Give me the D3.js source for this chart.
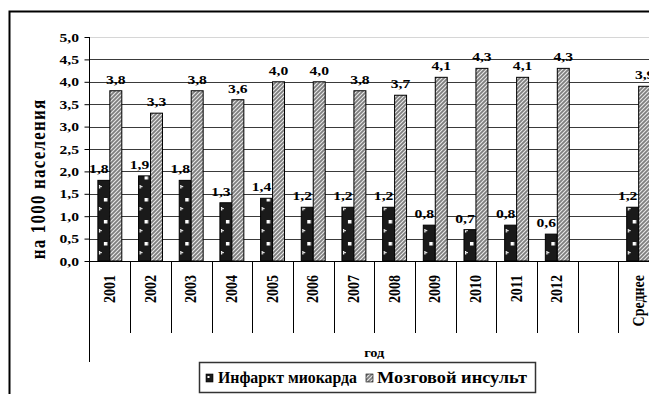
<!DOCTYPE html>
<html>
<head>
<meta charset="utf-8">
<script src="https://cdn.jsdelivr.net/npm/d3@7"></script>
<style>
  html, body { margin: 0; padding: 0; background: #fff; overflow: hidden; }
  svg { display: block; }
  text { font-family: "Liberation Serif", "Times New Roman", serif; font-weight: bold; fill: #000; }
</style>
</head>
<body>
<script>
// Chart data
const categories = ["2001", "2002", "2003", "2004", "2005", "2006", "2007", "2008", "2009", "2010", "2011", "2012", "", "Среднее"];
const infarct = [1.8, 1.9, 1.8, 1.3, 1.4, 1.2, 1.2, 1.2, 0.8, 0.7, 0.8, 0.6, null, 1.2];
const stroke  = [3.8, 3.3, 3.8, 3.6, 4.0, 4.0, 3.8, 3.7, 4.1, 4.3, 4.1, 4.3, null, 3.9];
const seriesNames = ["Инфаркт миокарда", "Мозговой инсульт"];
const yTicks = [0, 0.5, 1, 1.5, 2, 2.5, 3, 3.5, 4, 4.5, 5];
const yTitle = "на 1000 населения";
const xTitle = "год";

const W = 649, H = 394;
const SX = 1.2; // horizontal glyph stretch of the typeface

const svg = d3.select("body").append("svg").attr("width", W).attr("height", H);
const defs = svg.append("defs");

// outer chart frame (extends past the right and bottom edges)
svg.append("rect").attr("x", 9.5).attr("y", 11.5).attr("width", 720).attr("height", 420)
  .attr("fill", "#fff").attr("stroke", "#000").attr("stroke-width", 2);

const plot = { left: 89.5, right: 659, top: 37, bottom: 261 };

const x = d3.scaleBand().domain(categories).range([plot.left, plot.right]).padding(0);
const xs = d3.scaleBand().domain(seriesNames).range([0, x.bandwidth()]).paddingInner(0).paddingOuter(0.7);
const y = d3.scaleLinear().domain([0, 5]).range([plot.bottom, plot.top]);
const fmt = v => d3.format(".1f")(v).replace(".", ",");

function label(parent, px, py, str, size, anchor, rotate, sx) {
  const g = parent.append("g").attr("transform",
    `translate(${px},${py}) scale(${sx || SX},1)` + (rotate ? " rotate(-90)" : ""));
  return g.append("text").attr("font-size", size).attr("text-anchor", anchor || "middle").text(str);
}

// pattern fills
function dotPattern(id, x0, y0) {
  const p = defs.append("pattern").attr("id", id).attr("patternUnits", "userSpaceOnUse")
    .attr("x", x0).attr("y", y0).attr("width", 12).attr("height", 22);
  p.append("rect").attr("width", 12).attr("height", 22).attr("fill", "#1a1a1a");
  p.append("rect").attr("x", 6).attr("y", 3).attr("width", 3.5).attr("height", 3.5).attr("fill", "#fff");
  p.append("rect").attr("x", 1).attr("y", 12).attr("width", 1.3).attr("height", 3.5).attr("fill", "#fff");
  p.append("rect").attr("x", 1).attr("y", 13).attr("width", 3).attr("height", 1.2).attr("fill", "#ddd");
}
const hatch = defs.append("pattern").attr("id", "hatch").attr("patternUnits", "userSpaceOnUse")
  .attr("width", 4).attr("height", 4);
hatch.append("rect").attr("width", 4).attr("height", 4).attr("fill", "#7e7e7e");
hatch.append("path").attr("d", "M-1,1 L1,-1 M0,4 L4,0 M3,5 L5,3").attr("stroke", "#e8e8e8").attr("stroke-width", 1.1);

// gridlines
svg.append("g").selectAll("line").data(yTicks.filter(t => t > 0)).join("line")
  .attr("x1", plot.left).attr("x2", plot.right + 10)
  .attr("y1", d => Math.round(y(d)) + 0.5).attr("y2", d => Math.round(y(d)) + 0.5)
  .attr("stroke", d => d === 5 ? "#d6d6d6" : "#3a3a3a").attr("stroke-width", 1);

// y axis
const yAxis = svg.append("g").attr("transform", `translate(${plot.left},0)`)
  .call(d3.axisLeft(y).tickValues(yTicks).tickFormat(() => "").tickSize(5).tickSizeOuter(0));
yAxis.select(".domain").remove();
yAxis.selectAll(".tick line").attr("stroke", "#000");
yTicks.forEach(t => label(svg, 79, y(t) + 4.5, fmt(t), 13, "end"));
svg.append("line").attr("x1", plot.left).attr("x2", plot.left).attr("y1", plot.top).attr("y2", 362)
  .attr("stroke", "#000");

// category axis with separators
svg.append("line").attr("x1", plot.left).attr("x2", plot.right + 10)
  .attr("y1", plot.bottom + 0.5).attr("y2", plot.bottom + 0.5).attr("stroke", "#000");
svg.append("g").selectAll("line").data(categories).join("line")
  .attr("x1", d => Math.round(x(d) + x.bandwidth()) + 0.5).attr("x2", d => Math.round(x(d) + x.bandwidth()) + 0.5)
  .attr("y1", plot.bottom).attr("y2", 333).attr("stroke", "#000");
categories.forEach(c => {
  if (!c) return;
  label(svg, x(c) + x.bandwidth() / 2 + 5, 275, c, 14, "end", true);
});

// bars
const rows = categories.map((c, i) => ({ c, i, vals: [infarct[i], stroke[i]] }));
const barG = svg.append("g");
rows.forEach(r => {
  r.vals.forEach((v, k) => {
    if (v == null) return;
    const bx = x(r.c) + xs(seriesNames[k]);
    let fill;
    if (k === 0) {
      const id = "dots" + r.i;
      dotPattern(id, bx, y(0));
      fill = `url(#${id})`;
    } else fill = "url(#hatch)";
    barG.append("rect").attr("x", bx).attr("y", y(v))
      .attr("width", xs.bandwidth()).attr("height", y(0) - y(v))
      .attr("fill", fill).attr("stroke", "#000").attr("stroke-width", 1);
    label(svg, bx + xs.bandwidth() / 2 - (k === 0 ? 5 : 0), y(v) - 7, fmt(v), 13, "middle");
  });
});

// axis titles
label(svg, 45, 179, yTitle, 17, "middle", true).attr("letter-spacing", 1.2);
label(svg, (plot.left + plot.right) / 2, 357, xTitle, 12, "middle");

// legend
const lg = svg.append("g");
lg.append("rect").attr("x", 199.5).attr("y", 362.5).attr("width", 336).attr("height", 30)
  .attr("fill", "#fff").attr("stroke", "#333").attr("stroke-width", 1.5);
lg.append("rect").attr("x", 206).attr("y", 374).attr("width", 7).attr("height", 8)
  .attr("fill", "#1a1a1a").attr("stroke", "#000").attr("stroke-width", 0.6);
lg.append("rect").attr("x", 207.5).attr("y", 376).attr("width", 2).attr("height", 2).attr("fill", "#fff");
label(lg, 218, 383, seriesNames[0], 16, "start", false, 1.0)
  .attr("textLength", 139).attr("lengthAdjust", "spacingAndGlyphs");
lg.append("rect").attr("x", 366).attr("y", 374).attr("width", 7).attr("height", 8)
  .attr("fill", "url(#hatch)").attr("stroke", "#000").attr("stroke-width", 0.6);
label(lg, 377, 383, seriesNames[1], 16, "start", false, 1.0)
  .attr("textLength", 150).attr("lengthAdjust", "spacingAndGlyphs");
</script>
</body>
</html>
